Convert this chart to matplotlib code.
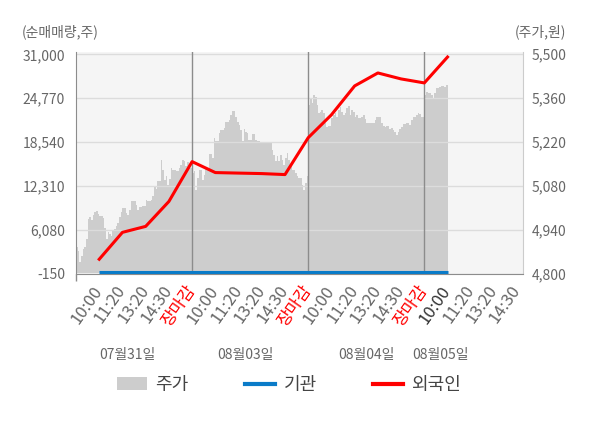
import matplotlib
matplotlib.use('Agg')
import numpy as np
import matplotlib.pyplot as plt
from matplotlib.patches import Patch
from matplotlib.lines import Line2D

plt.rcParams['font.family'] = ['Noto Sans CJK KR', 'DejaVu Sans']

# ---------------- data ----------------
price_day1 = [4884, 4871, 4836, 4855, 4877, 4884, 4909, 4974, 4981, 4972,
              4988, 4995, 5001, 4990, 4985, 4985, 4978, 4946, 4909, 4932,
              4927, 4919, 4935, 4943, 4951, 4962, 4981, 4995, 5009, 5009,
              4994, 4988, 5002, 5033, 5033, 5033, 5020, 5004, 5011, 5011,
              5017, 5017, 5034, 5033, 5033, 5034, 5046, 5076, 5070, 5094,
              5094, 5163, 5131, 5100, 5112, 5084, 5103, 5137, 5129, 5129,
              5126, 5126, 5137, 5147, 5161, 5158, 5142, 5156, 5142, 5138]
price_day2 = [5121, 5126, 5068, 5105, 5131, 5131, 5100, 5116, 5137, 5137,
              5182, 5182, 5169, 5232, 5222, 5222, 5248, 5257, 5257, 5266,
              5283, 5283, 5291, 5307, 5320, 5320, 5301, 5285, 5275, 5259,
              5222, 5261, 5253, 5248, 5227, 5227, 5246, 5246, 5227, 5222,
              5222, 5218, 5218, 5218, 5218, 5218, 5218, 5218, 5195, 5179,
              5158, 5174, 5158, 5179, 5163, 5147, 5169, 5185, 5163, 5142,
              5131, 5131, 5121, 5110, 5105, 5105, 5084, 5068, 5089, 5110]
price_day3 = [5338, 5360, 5344, 5370, 5365, 5338, 5312, 5317, 5323, 5312,
              5280, 5269, 5272, 5272, 5296, 5307, 5314, 5301, 5323, 5333,
              5317, 5307, 5312, 5328, 5335, 5307, 5323, 5317, 5301, 5307,
              5296, 5296, 5301, 5307, 5293, 5282, 5282, 5282, 5282, 5282,
              5291, 5301, 5301, 5299, 5280, 5272, 5269, 5272, 5272, 5261,
              5264, 5259, 5253, 5243, 5253, 5261, 5269, 5278, 5278, 5280,
              5282, 5275, 5291, 5299, 5301, 5307, 5312, 5310, 5301, 5301]
price_day4 = [5370, 5381, 5376, 5376, 5370, 5360, 5376, 5392, 5392, 5397,
              5400, 5400, 5397, 5402]

foreign = [1875, 5698, 6547, 10087, 15750, 14193, 14120, 14050, 13910,
           19149, 22405, 26511, 28352, 27503, 26936, 30618]
institution = [0, 0, 0, 0, 0, 0, 0, 0, 0, 0, 0, 0, 0, 0, 0, 0]

tick_labels = ['10:00', '11:20', '13:20', '14:30', '장마감',
               '10:00', '11:20', '13:20', '14:30', '장마감',
               '10:00', '11:20', '13:20', '14:30', '장마감',
               '10:00', '11:20', '13:20', '14:30']
dates = ['07월31일', '08월03일', '08월04일', '08월05일']

left_ticks = [-150, 6080, 12310, 18540, 24770, 31000]
right_ticks = [4800, 4940, 5080, 5220, 5360, 5500]

# ---------------- layout ----------------
SLOTS_PER_DAY = 5
BINS_PER_DAY = 70

fig = plt.figure(figsize=(6, 4.28), dpi=100)
ax = fig.add_axes([76/600, 1-273.5/428, (523-76)/600, (273.5-52)/428])
ax2 = ax.twinx()
ax.set_zorder(ax2.get_zorder() + 1)
ax.patch.set_visible(False)
ax2.patch.set_visible(True)
ax2.patch.set_facecolor('#f5f5f5')

# price area (right axis)
edges = []
vals = []
for d, day in enumerate([price_day1, price_day2, price_day3, price_day4]):
    w = SLOTS_PER_DAY / BINS_PER_DAY
    e = d * SLOTS_PER_DAY + np.arange(len(day) + 1) * w
    if edges:
        e = e[1:]
    edges.extend(e.tolist())
    vals.extend(day)
ax2.stairs(vals, edges, baseline=4800, fill=True, color='#cdcdcd', lw=0)
ax2.set_ylim(4800, 5507.3)
ax2.set_yticks(right_ticks)
ax2.set_yticklabels([f'{v:,}' for v in right_ticks])

# lines (left axis)
xs = np.arange(1, len(foreign) + 1)
ax.plot(xs, institution, color='#0a7bc8', lw=2.2, solid_capstyle='butt', zorder=4)
ax.plot(xs, foreign, color='#ff0000', lw=2.2, zorder=5)
ax.set_ylim(-150, 31330)
ax.set_yticks(left_ticks)
ax.set_yticklabels([f'{v:,}' for v in left_ticks])
ax.set_xlim(0, 19.25)

ax.grid(axis='y', color='#dcdcdc', lw=1)
ax.set_axisbelow(True)
for xv in [5, 10, 15]:
    ax.axvline(xv, color='#8c8c8c', lw=1, zorder=2)

ax.set_xticks(np.arange(1, 20))
ax.set_xticklabels(tick_labels, rotation=55, ha='right', va='center',
                   rotation_mode='anchor', fontsize=12)
for i, t in enumerate(ax.get_xticklabels()):
    if tick_labels[i] == '장마감':
        t.set_color('#ff0000')
    elif i == 15:
        t.set_color('#333333')
    else:
        t.set_color('#666666')
ax.set_xticks([0, 5, 10, 15], minor=True)
ax.tick_params(axis='x', which='major', length=0, pad=10)
ax.tick_params(axis='x', which='minor', length=5, color='#8c8c8c', width=1)
ax.tick_params(axis='y', length=0, labelsize=10, labelcolor='#666666', pad=8)
ax2.tick_params(axis='y', length=0, labelsize=10, labelcolor='#666666', pad=6)

for s in ['top', 'right']:
    ax.spines[s].set_visible(False)
for s in ['top', 'left', 'bottom']:
    ax2.spines[s].set_visible(False)
ax.spines['left'].set_color('#8c8c8c')
ax.spines['bottom'].set_color('#8c8c8c')
ax2.spines['right'].set_color('#cccccc')

# date labels
for xp, dtxt in zip([2.2, 7.3, 12.5, 15.7], dates):
    ax.text(xp, -0.37, dtxt, transform=ax.get_xaxis_transform(),
            ha='center', va='center', fontsize=10, color='#666666')

# headers
fig.text(22/600, 1-32/428, '(순매매량,주)', ha='left', va='center',
         fontsize=10, color='#666666')
fig.text(566/600, 1-32/428, '(주가,원)', ha='right', va='center',
         fontsize=10, color='#666666')

# legend
handles = [Patch(facecolor='#cdcdcd', edgecolor='none'),
           Line2D([0], [0], color='#0a7bc8', lw=3),
           Line2D([0], [0], color='#ff0000', lw=3)]
fig.legend(handles, ['주가', '기관', '외국인'], loc='center',
           bbox_to_anchor=(289/600, 1-385/428), ncol=3, frameon=False,
           fontsize=13, handlelength=1.7, handletextpad=0.45,
           columnspacing=3.1, labelcolor='#444444')

fig.savefig('out.png', dpi=100)
